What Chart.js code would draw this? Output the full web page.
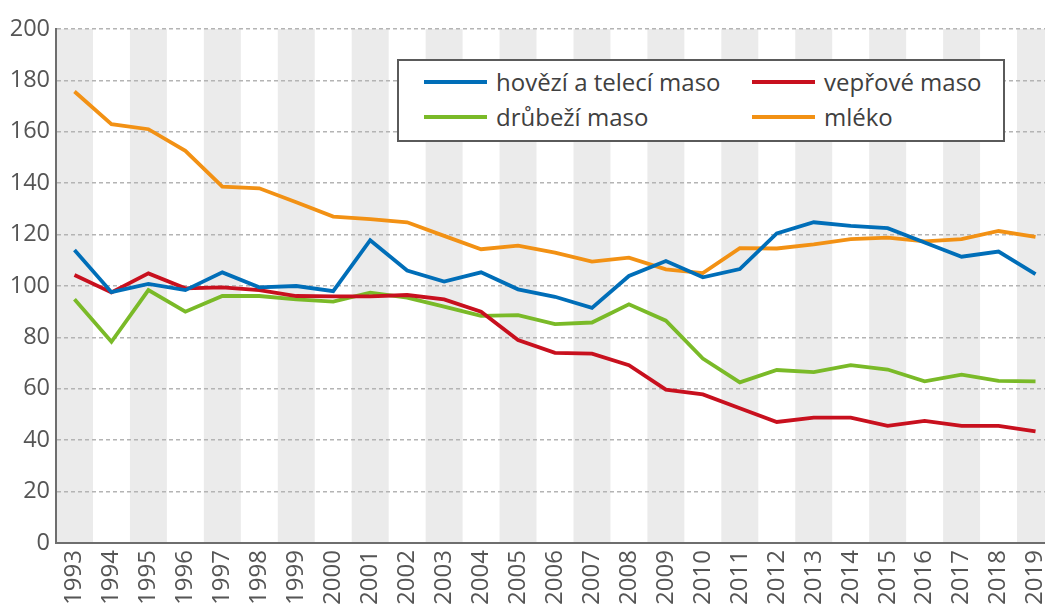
<!DOCTYPE html>
<html lang="cs">
<head>
<meta charset="utf-8">
<script src="https://cdn.jsdelivr.net/npm/chart.js@4/dist/chart.umd.min.js"></script>
<style>
	html, body { margin: 0; padding: 0; overflow: hidden; background: #fff; }
	#wrap { position: relative; width: 1054px; height: 615px; }
	#legend {
		position: absolute; left: 397px; top: 59px; width: 608px; height: 83px;
		box-sizing: border-box; border: 2px solid #5a5a5a; background: #fff;
		display: grid; grid-template-columns: 328px auto; grid-auto-rows: 35px;
		padding: 3px 0 0 25px;
		font-family: 'Open Sans', sans-serif; font-size: 24px; color: #404040;
	}
	#legend .item { display: flex; align-items: center; white-space: nowrap; }
	#legend .swatch { display: inline-block; width: 63px; height: 4px; margin-right: 9px; }
</style>
</head>
<body>
<div id="wrap">
	<canvas id="myChart"></canvas>
	<div id="legend"></div>
</div>
<script>
'use strict';
const years = ['1993', '1994', '1995', '1996', '1997', '1998', '1999', '2000', '2001', '2002',
	'2003', '2004', '2005', '2006', '2007', '2008', '2009', '2010', '2011', '2012',
	'2013', '2014', '2015', '2016', '2017', '2018', '2019'];
const hovezi = [114, 97.6, 100.8, 98.4, 105.3, 99.5, 100, 98, 117.8, 106,
	101.7, 105.3, 98.7, 95.8, 91.5, 103.9, 109.7, 103.4, 106.6, 120.5,
	124.8, 123.4, 122.5, 116.9, 111.4, 113.4, 104.6];
const veprove = [104.3, 97.5, 104.9, 99.1, 99.5, 98.4, 96.1, 96, 96, 96.5,
	94.8, 90, 79, 74, 73.7, 69.2, 59.7, 57.8, 52.4, 47.1,
	48.8, 48.8, 45.6, 47.5, 45.6, 45.6, 43.4];
const drubezi = [94.8, 78.3, 98.4, 90, 96.1, 96.1, 94.8, 93.9, 97.4, 95.5,
	92, 88.4, 88.7, 85.2, 85.8, 92.9, 86.5, 71.8, 62.5, 67.3,
	66.5, 69.2, 67.5, 62.9, 65.5, 63.1, 62.9];
const mleko = [175.7, 163, 161, 152.6, 138.7, 138, 132.6, 127, 126, 124.8,
	119.5, 114.3, 115.7, 113, 109.5, 111, 106.5, 105, 114.7, 114.6,
	116.2, 118.2, 118.8, 117.4, 118.2, 121.4, 119.1];
const seriesLabels = ['hovězí a telecí maso', 'vepřové maso', 'drůbeží maso', 'mléko'];
const seriesColors = ['rgb(0, 110, 184)', 'rgb(200, 16, 30)', 'rgb(122, 186, 40)', 'rgb(242, 145, 20)'];

const FONT = "'Open Sans', sans-serif";
const CANVAS_H = 615;
const AXIS_BOTTOM = 543;

// gray stripe behind every other year
const stripes = {
	id: 'stripes',
	beforeDraw(chart) {
		const { ctx, chartArea, scales } = chart;
		const x = scales.x;
		const w = x.getPixelForValue(1) - x.getPixelForValue(0);
		ctx.save();
		ctx.fillStyle = '#ebebeb';
		for (let i = 0; i < years.length; i += 2) {
			const cx = x.getPixelForValue(i);
			ctx.fillRect(cx - w / 2, chartArea.top, w, chartArea.bottom - chartArea.top);
		}
		ctx.restore();
	}
};

function prepareDataSets() {
	const all = [hovezi, veprove, drubezi, mleko];
	return all.map((d, i) => ({
		label: seriesLabels[i],
		data: d,
		borderColor: seriesColors[i],
		backgroundColor: seriesColors[i],
		borderWidth: 3.8,
		pointRadius: 0,
		tension: 0,
		fill: false,
	}));
}

const config = {
	type: 'line',
	data: { labels: years, datasets: prepareDataSets() },
	options: {
		responsive: true,
		maintainAspectRatio: false,
		animation: false,
		layout: { padding: { top: 29, left: 0, right: 0, bottom: 0 } },
		plugins: { legend: { display: false }, tooltip: { enabled: false } },
		scales: {
			x: {
				type: 'category',
				offset: true,
				grid: { display: false, drawTicks: false },
				border: { display: true, color: '#6e6e6e', width: 2 },
				ticks: {
					minRotation: 90, maxRotation: 90, autoSkip: false,
					padding: 7, color: '#555',
					font: { family: FONT, size: 24 },
				},
				afterFit(scale) {
					scale.height = CANVAS_H - AXIS_BOTTOM;
					// plot runs to the right edge, last label may be cut like in the source
					scale.paddingLeft = 0;
					scale.paddingRight = 0;
				},
			},
			y: {
				min: 0, max: 200,
				grid: { color: '#b4b4b4', lineWidth: 1.5, drawTicks: false },
				// v4: border.dash is applied to the grid lines
				border: { display: true, color: '#6e6e6e', width: 2, dash: [4, 3] },
				ticks: {
					stepSize: 20, padding: 6, color: '#555',
					font: { family: FONT, size: 23.5 },
				},
				afterFit(scale) { scale.width = 56; },
			},
		},
	},
	plugins: [stripes],
};

const myChart = new Chart(document.getElementById('myChart'), config);

// legend box built from the datasets
const legendEl = document.getElementById('legend');
myChart.data.datasets.forEach((ds) => {
	const item = document.createElement('div');
	item.className = 'item';
	const sw = document.createElement('span');
	sw.className = 'swatch';
	sw.style.background = ds.borderColor;
	item.appendChild(sw);
	item.appendChild(document.createTextNode(ds.label));
	legendEl.appendChild(item);
});
</script>
</body>
</html>
